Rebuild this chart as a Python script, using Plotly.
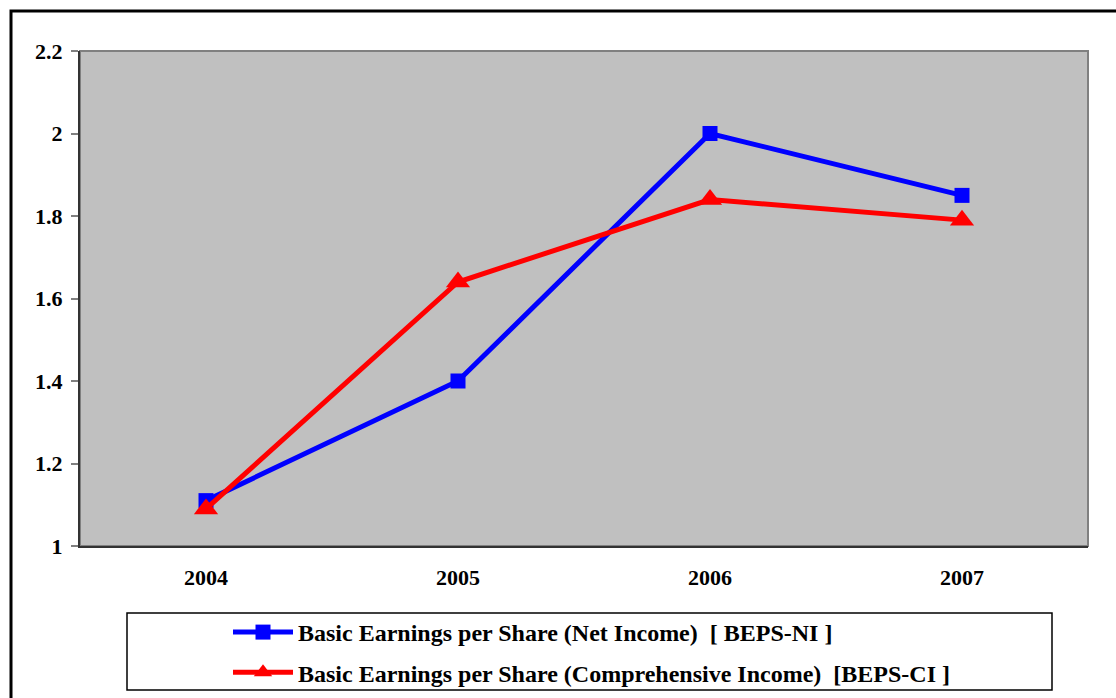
import plotly.graph_objects as go

years = ["2004", "2005", "2006", "2007"]
beps_ni = [1.11, 1.40, 2.00, 1.85]
beps_ci = [1.09, 1.64, 1.84, 1.79]
name_ni = "Basic Earnings per Share (Net Income)  [ BEPS-NI ]"
name_ci = "Basic Earnings per Share (Comprehensive Income)  [BEPS-CI ]"
y_ticks = [1, 1.2, 1.4, 1.6, 1.8, 2, 2.2]

W, H = 1116, 698
L, R, T, B = 80, 28, 51, 152
PW, PH = W - L - R, H - T - B

def px(x):
    return (x - L) / PW

def py(y):
    return (H - B - y) / PH

font = "Liberation Serif, Times New Roman, serif"

fig = go.Figure()
fig.add_trace(go.Scatter(
    x=years, y=beps_ni, name="<b>" + name_ni + "</b>", mode="lines+markers",
    line=dict(color="#0000FF", width=5),
    marker=dict(symbol="square", size=15, color="#0000FF"),
    legendgroup="a",
))
fig.add_trace(go.Scatter(
    x=years, y=beps_ci, name="<b>" + name_ci + "</b>", mode="lines+markers",
    line=dict(color="#FF0000", width=5),
    marker=dict(symbol="triangle-up", size=21, color="#FF0000"),
    legendgroup="b",
))

shapes = [
    dict(type="rect", xref="paper", yref="paper",
         x0=px(11), x1=px(1125), y0=py(708), y1=py(11),
         line=dict(color="black", width=3), fillcolor="rgba(0,0,0,0)", layer="below"),
    dict(type="rect", xref="paper", yref="paper", x0=0, x1=1, y0=0, y1=1,
         line=dict(color="#808080", width=2), fillcolor="rgba(0,0,0,0)", layer="below"),
    dict(type="rect", xref="paper", yref="paper",
         x0=px(127), x1=px(1052), y0=py(690), y1=py(613),
         line=dict(color="black", width=1.5), fillcolor="white", layer="below"),
]

fig.update_layout(
    width=W, height=H,
    margin=dict(l=L, r=R, t=T, b=B, autoexpand=False),
    paper_bgcolor="white",
    plot_bgcolor="#C0C0C0",
    font=dict(family=font, size=22, color="black"),
    showlegend=True,
    legend=dict(
        x=px(228), y=py(610), xanchor="left", yanchor="top",
        bgcolor="rgba(0,0,0,0)", borderwidth=0,
        font=dict(family=font, size=24, color="black"),
        tracegroupgap=6, itemwidth=60,
    ),
    shapes=shapes,
    xaxis=dict(
        type="category", range=[-0.5, 3.5],
        tickvals=years, ticktext=["<b>" + y + "</b>" for y in years],
        showgrid=False, zeroline=False,
        showline=True, linecolor="#333333", linewidth=2,
        ticks="outside", ticklen=11, tickcolor="rgba(0,0,0,0)",
        tickfont=dict(family=font, size=22, color="black"),
    ),
    yaxis=dict(
        range=[1, 2.2], tickvals=y_ticks, ticktext=["<b>" + str(v) + "</b>" for v in y_ticks],
        showgrid=False, zeroline=False,
        showline=True, linecolor="#333333", linewidth=2,
        ticks="outside", ticklen=7, tickcolor="#808080", tickwidth=1.5,
        ticklabelstandoff=4,
        tickfont=dict(family=font, size=22, color="black"),
    ),
)

fig.write_html(
    "out.html",
    config={"displayModeBar": False},
    post_script="document.body.style.margin='0px';document.body.style.padding='0px';",
)
